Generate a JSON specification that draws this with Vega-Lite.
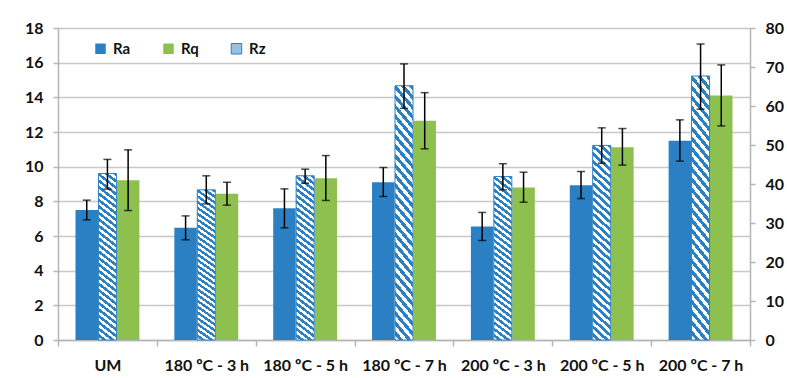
{
  "$schema": "https://vega.github.io/schema/vega-lite/v6.json",
  "width": 692,
  "height": 312,
  "autosize": {"type": "none"},
  "padding": {"left": 58, "top": 28, "right": 37, "bottom": 38},
  "background": "#ffffff",
  "config": {
    "font": "Lato",
    "view": {"stroke": null},
    "axis": {"labelFont": "Lato", "labelFontWeight": "bold", "labelFontSize": 16, "labelColor": "#111111", "title": null, "domainColor": "#b5b5b5", "domainWidth": 1.5, "tickColor": "#b5b5b5", "tickWidth": 1.5, "gridColor": "#c8c8c8", "gridWidth": 1.5}
  },
  "data": {"values": [
    {"cat": "UM", "series": "Ra", "value": 7.5, "lo": 6.93, "hi": 8.07},
    {"cat": "UM", "series": "Rq", "value": 9.22, "lo": 7.47, "hi": 10.97},
    {"cat": "UM", "series": "Rz", "value": 42.7, "lo": 38.7, "hi": 46.3},
    {"cat": "180 ºC - 3 h", "series": "Ra", "value": 6.47, "lo": 5.78, "hi": 7.16},
    {"cat": "180 ºC - 3 h", "series": "Rq", "value": 8.44, "lo": 7.78, "hi": 9.1},
    {"cat": "180 ºC - 3 h", "series": "Rz", "value": 38.5, "lo": 34.9, "hi": 42.1},
    {"cat": "180 ºC - 5 h", "series": "Ra", "value": 7.6, "lo": 6.47, "hi": 8.72},
    {"cat": "180 ºC - 5 h", "series": "Rq", "value": 9.33, "lo": 8.05, "hi": 10.64},
    {"cat": "180 ºC - 5 h", "series": "Rz", "value": 42.1, "lo": 40.2, "hi": 43.8},
    {"cat": "180 ºC - 7 h", "series": "Ra", "value": 9.1, "lo": 8.28, "hi": 9.95},
    {"cat": "180 ºC - 7 h", "series": "Rq", "value": 12.65, "lo": 11.03, "hi": 14.27},
    {"cat": "180 ºC - 7 h", "series": "Rz", "value": 65.2, "lo": 59.4, "hi": 70.8},
    {"cat": "200 ºC - 3 h", "series": "Ra", "value": 6.55, "lo": 5.74, "hi": 7.36},
    {"cat": "200 ºC - 3 h", "series": "Rq", "value": 8.8, "lo": 7.95, "hi": 9.68},
    {"cat": "200 ºC - 3 h", "series": "Rz", "value": 41.9, "lo": 38.5, "hi": 45.2},
    {"cat": "200 ºC - 5 h", "series": "Ra", "value": 8.93, "lo": 8.16, "hi": 9.72},
    {"cat": "200 ºC - 5 h", "series": "Rq", "value": 11.12, "lo": 10.09, "hi": 12.2},
    {"cat": "200 ºC - 5 h", "series": "Rz", "value": 49.9, "lo": 45.3, "hi": 54.4},
    {"cat": "200 ºC - 7 h", "series": "Ra", "value": 11.5, "lo": 10.32, "hi": 12.7},
    {"cat": "200 ºC - 7 h", "series": "Rq", "value": 14.1, "lo": 12.35, "hi": 15.87},
    {"cat": "200 ºC - 7 h", "series": "Rz", "value": 67.7, "lo": 59.2, "hi": 75.9}
  ]},
  "encoding": {
    "x": {"field": "cat", "type": "nominal", "sort": null,
      "scale": {"domain": ["UM", "180 ºC - 3 h", "180 ºC - 5 h", "180 ºC - 7 h", "200 ºC - 3 h", "200 ºC - 5 h", "200 ºC - 7 h"], "paddingInner": 0, "paddingOuter": 0},
      "axis": {"labelAngle": 0, "tickBand": "extent", "tickSize": 6, "labelPadding": 11, "grid": false, "domain": true}},
    "xOffset": {"field": "series", "type": "nominal", "scale": {"domain": ["Ra", "Rz", "Rq"], "paddingInner": 0, "paddingOuter": 0.888}}
  },
  "layer": [
    {
      "transform": [{"filter": "datum.series !== 'Rz'"}],
      "encoding": {
        "y": {"field": "value", "type": "quantitative",
          "scale": {"domain": [0, 18], "nice": false},
          "axis": {"values": [0, 2, 4, 6, 8, 10, 12, 14, 16, 18], "grid": true, "tickSize": 5, "labelPadding": 10, "orient": "left"}}
      },
      "layer": [
        {
          "mark": {"type": "bar", "width": 22.5},
          "encoding": {
            "color": {"field": "series", "type": "nominal",
              "scale": {"domain": ["Ra", "Rq", "Rz"], "range": ["#2b80c3", "#8dc04f", "#95c1e6"]},
              "legend": {"orient": "none", "legendX": 35, "legendY": 13, "direction": "horizontal", "title": null, "symbolType": "square", "symbolSize": 110, "symbolStrokeWidth": 0, "labelFont": "Lato", "labelFontSize": 15, "labelFontWeight": "bold", "labelColor": "#111111", "columnPadding": 30, "labelOffset": 5,
                "encode": {"symbols": {"update": {
                  "fill": [{"test": "datum.value === 'Rz'", "value": {"gradient": "linear", "x1": 1, "y1": 0, "x2": 0, "y2": 1, "stops": [
                    {"offset": 0, "color": "#2b80c3"}, {"offset": 0.1667, "color": "#2b80c3"}, {"offset": 0.1667, "color": "#ffffff"}, {"offset": 0.3333, "color": "#ffffff"},
                    {"offset": 0.3333, "color": "#2b80c3"}, {"offset": 0.5, "color": "#2b80c3"}, {"offset": 0.5, "color": "#ffffff"}, {"offset": 0.6667, "color": "#ffffff"},
                    {"offset": 0.6667, "color": "#2b80c3"}, {"offset": 0.8333, "color": "#2b80c3"}, {"offset": 0.8333, "color": "#ffffff"}, {"offset": 1, "color": "#ffffff"}]}},
                    {"scale": "color", "field": "value"}],
                  "stroke": [{"test": "datum.value === 'Rz'", "value": "#2b80c3"}, {"value": "transparent"}],
                  "strokeWidth": {"value": 1}
                }}}}}
          }
        },
        {
          "mark": {"type": "rule", "color": "#000000", "strokeWidth": 1.5},
          "encoding": {"y": {"field": "lo", "type": "quantitative"}, "y2": {"field": "hi"}}
        },
        {
          "mark": {"type": "tick", "color": "#000000", "size": 8, "thickness": 1.5},
          "encoding": {"y": {"field": "lo", "type": "quantitative"}}
        },
        {
          "mark": {"type": "tick", "color": "#000000", "size": 8, "thickness": 1.5},
          "encoding": {"y": {"field": "hi", "type": "quantitative"}}
        }
      ]
    },
    {
      "transform": [{"filter": "datum.series === 'Rz'"}],
      "encoding": {
        "y": {"field": "value", "type": "quantitative",
          "scale": {"domain": [0, 80], "nice": false},
          "axis": {"values": [0, 10, 20, 30, 40, 50, 60, 70, 80], "grid": false, "tickSize": 5, "labelPadding": 10, "orient": "right"}}
      },
      "layer": [
        {
          "mark": {"type": "bar", "width": 18, "stroke": "#2b80c3", "strokeWidth": 1,
            "fill": {"gradient": "linear", "x1": 1, "y1": 0, "x2": 0.91, "y2": 1.076, "stops": [
              {"offset": 0, "color": "#2b80c3"}, {"offset": 0.0179, "color": "#2b80c3"}, {"offset": 0.0179, "color": "#ffffff"}, {"offset": 0.0357, "color": "#ffffff"},
              {"offset": 0.0357, "color": "#2b80c3"}, {"offset": 0.0536, "color": "#2b80c3"}, {"offset": 0.0536, "color": "#ffffff"}, {"offset": 0.0714, "color": "#ffffff"},
              {"offset": 0.0714, "color": "#2b80c3"}, {"offset": 0.0893, "color": "#2b80c3"}, {"offset": 0.0893, "color": "#ffffff"}, {"offset": 0.1071, "color": "#ffffff"},
              {"offset": 0.1071, "color": "#2b80c3"}, {"offset": 0.125, "color": "#2b80c3"}, {"offset": 0.125, "color": "#ffffff"}, {"offset": 0.1429, "color": "#ffffff"},
              {"offset": 0.1429, "color": "#2b80c3"}, {"offset": 0.1607, "color": "#2b80c3"}, {"offset": 0.1607, "color": "#ffffff"}, {"offset": 0.1786, "color": "#ffffff"},
              {"offset": 0.1786, "color": "#2b80c3"}, {"offset": 0.1964, "color": "#2b80c3"}, {"offset": 0.1964, "color": "#ffffff"}, {"offset": 0.2143, "color": "#ffffff"},
              {"offset": 0.2143, "color": "#2b80c3"}, {"offset": 0.2321, "color": "#2b80c3"}, {"offset": 0.2321, "color": "#ffffff"}, {"offset": 0.25, "color": "#ffffff"},
              {"offset": 0.25, "color": "#2b80c3"}, {"offset": 0.2679, "color": "#2b80c3"}, {"offset": 0.2679, "color": "#ffffff"}, {"offset": 0.2857, "color": "#ffffff"},
              {"offset": 0.2857, "color": "#2b80c3"}, {"offset": 0.3036, "color": "#2b80c3"}, {"offset": 0.3036, "color": "#ffffff"}, {"offset": 0.3214, "color": "#ffffff"},
              {"offset": 0.3214, "color": "#2b80c3"}, {"offset": 0.3393, "color": "#2b80c3"}, {"offset": 0.3393, "color": "#ffffff"}, {"offset": 0.3571, "color": "#ffffff"},
              {"offset": 0.3571, "color": "#2b80c3"}, {"offset": 0.375, "color": "#2b80c3"}, {"offset": 0.375, "color": "#ffffff"}, {"offset": 0.3929, "color": "#ffffff"},
              {"offset": 0.3929, "color": "#2b80c3"}, {"offset": 0.4107, "color": "#2b80c3"}, {"offset": 0.4107, "color": "#ffffff"}, {"offset": 0.4286, "color": "#ffffff"},
              {"offset": 0.4286, "color": "#2b80c3"}, {"offset": 0.4464, "color": "#2b80c3"}, {"offset": 0.4464, "color": "#ffffff"}, {"offset": 0.4643, "color": "#ffffff"},
              {"offset": 0.4643, "color": "#2b80c3"}, {"offset": 0.4821, "color": "#2b80c3"}, {"offset": 0.4821, "color": "#ffffff"}, {"offset": 0.5, "color": "#ffffff"},
              {"offset": 0.5, "color": "#2b80c3"}, {"offset": 0.5179, "color": "#2b80c3"}, {"offset": 0.5179, "color": "#ffffff"}, {"offset": 0.5357, "color": "#ffffff"},
              {"offset": 0.5357, "color": "#2b80c3"}, {"offset": 0.5536, "color": "#2b80c3"}, {"offset": 0.5536, "color": "#ffffff"}, {"offset": 0.5714, "color": "#ffffff"},
              {"offset": 0.5714, "color": "#2b80c3"}, {"offset": 0.5893, "color": "#2b80c3"}, {"offset": 0.5893, "color": "#ffffff"}, {"offset": 0.6071, "color": "#ffffff"},
              {"offset": 0.6071, "color": "#2b80c3"}, {"offset": 0.625, "color": "#2b80c3"}, {"offset": 0.625, "color": "#ffffff"}, {"offset": 0.6429, "color": "#ffffff"},
              {"offset": 0.6429, "color": "#2b80c3"}, {"offset": 0.6607, "color": "#2b80c3"}, {"offset": 0.6607, "color": "#ffffff"}, {"offset": 0.6786, "color": "#ffffff"},
              {"offset": 0.6786, "color": "#2b80c3"}, {"offset": 0.6964, "color": "#2b80c3"}, {"offset": 0.6964, "color": "#ffffff"}, {"offset": 0.7143, "color": "#ffffff"},
              {"offset": 0.7143, "color": "#2b80c3"}, {"offset": 0.7321, "color": "#2b80c3"}, {"offset": 0.7321, "color": "#ffffff"}, {"offset": 0.75, "color": "#ffffff"},
              {"offset": 0.75, "color": "#2b80c3"}, {"offset": 0.7679, "color": "#2b80c3"}, {"offset": 0.7679, "color": "#ffffff"}, {"offset": 0.7857, "color": "#ffffff"},
              {"offset": 0.7857, "color": "#2b80c3"}, {"offset": 0.8036, "color": "#2b80c3"}, {"offset": 0.8036, "color": "#ffffff"}, {"offset": 0.8214, "color": "#ffffff"},
              {"offset": 0.8214, "color": "#2b80c3"}, {"offset": 0.8393, "color": "#2b80c3"}, {"offset": 0.8393, "color": "#ffffff"}, {"offset": 0.8571, "color": "#ffffff"},
              {"offset": 0.8571, "color": "#2b80c3"}, {"offset": 0.875, "color": "#2b80c3"}, {"offset": 0.875, "color": "#ffffff"}, {"offset": 0.8929, "color": "#ffffff"},
              {"offset": 0.8929, "color": "#2b80c3"}, {"offset": 0.9107, "color": "#2b80c3"}, {"offset": 0.9107, "color": "#ffffff"}, {"offset": 0.9286, "color": "#ffffff"},
              {"offset": 0.9286, "color": "#2b80c3"}, {"offset": 0.9464, "color": "#2b80c3"}, {"offset": 0.9464, "color": "#ffffff"}, {"offset": 0.9643, "color": "#ffffff"},
              {"offset": 0.9643, "color": "#2b80c3"}, {"offset": 0.9821, "color": "#2b80c3"}, {"offset": 0.9821, "color": "#ffffff"}, {"offset": 1, "color": "#ffffff"}]}}
        },
        {
          "mark": {"type": "rule", "color": "#000000", "strokeWidth": 1.5},
          "encoding": {"y": {"field": "lo", "type": "quantitative"}, "y2": {"field": "hi"}}
        },
        {
          "mark": {"type": "tick", "color": "#000000", "size": 8, "thickness": 1.5},
          "encoding": {"y": {"field": "lo", "type": "quantitative"}}
        },
        {
          "mark": {"type": "tick", "color": "#000000", "size": 8, "thickness": 1.5},
          "encoding": {"y": {"field": "hi", "type": "quantitative"}}
        }
      ]
    }
  ],
  "resolve": {"scale": {"y": "independent"}, "axis": {"y": "independent"}}
}
